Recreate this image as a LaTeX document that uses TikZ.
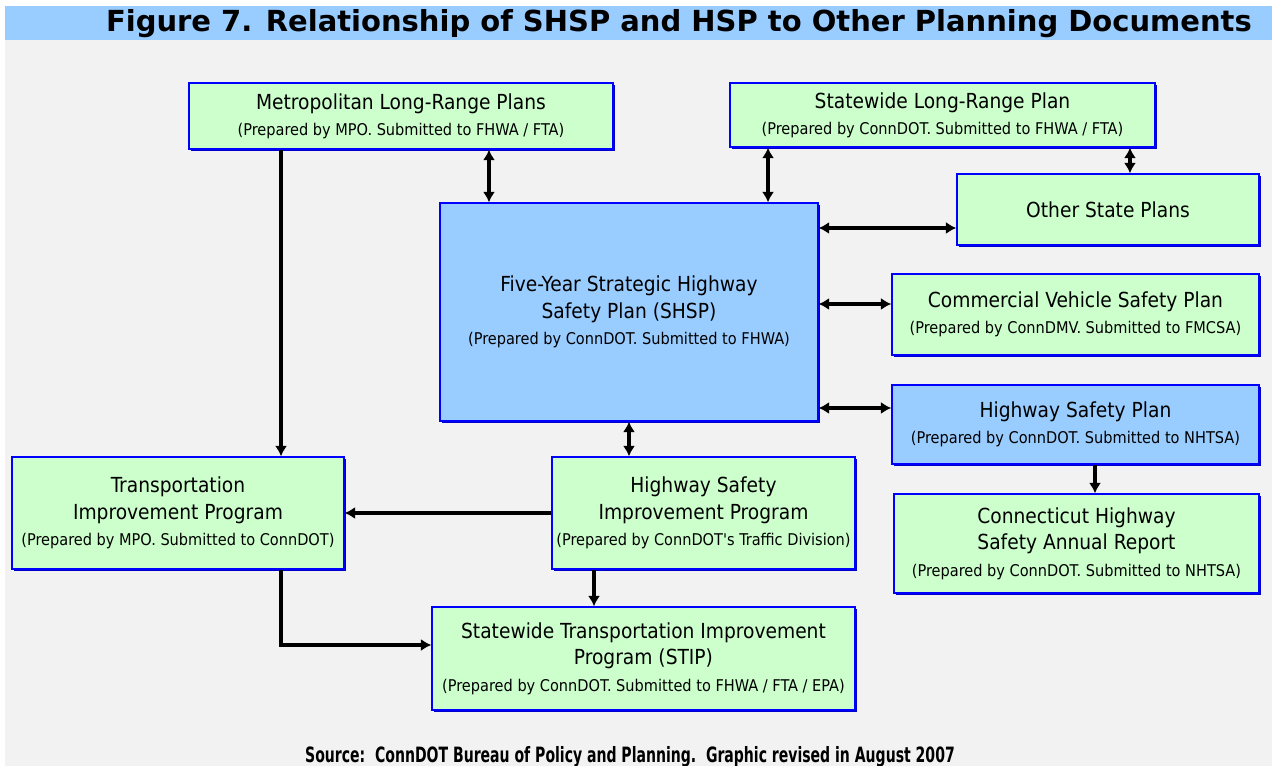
\documentclass[tikz,border=0pt]{standalone}
\usepackage{fontspec}
\usetikzlibrary{arrows.meta,shadows}
\newfontfamily\headfont{DejaVu Sans}
\newfontfamily\boxfont{DejaVu Sans Condensed}
\newcommand{\subtxt}{\fontsize{9.2}{12}\selectfont}

\definecolor{planGreen}{HTML}{CCFFCC}
\definecolor{planBlue}{HTML}{99CCFF}
\definecolor{paneGray}{HTML}{F2F2F2}

\tikzset{
  plan/.style={draw=blue, line width=0.8pt, fill=planGreen, align=center,
    inner sep=0pt, font=\boxfont\fontsize{11.8}{15}\selectfont,
    drop shadow={shadow xshift=1.3pt, shadow yshift=-1.3pt, fill=blue!80!black, opacity=1}},
  keyplan/.style={plan, fill=planBlue},
  link/.style={line width=2pt, >={Latex[length=6pt,width=7pt]}}
}

\begin{document}
\begin{tikzpicture}[x=0.02cm, y=-0.02cm]
  \useasboundingbox (0,0) rectangle (1272,766);

  % Background and title
  \fill[paneGray] (5,40) rectangle (1272,766);
  \fill[planBlue] (5,6) rectangle (1272,40);
  \node[anchor=east, font=\headfont\bfseries\fontsize{16.5}{16.5}\selectfont] (title) at (1258,24)
    {Figure 7. Relationship of SHSP and HSP to Other Planning Documents};

  % Planning documents
  \node[plan, minimum width=8.48cm, minimum height=1.32cm] (mlrp) at (401,116)
    {Metropolitan Long-Range Plans\\{\subtxt(Prepared by MPO. Submitted to FHWA / FTA)}};
  \node[plan, minimum width=8.5cm, minimum height=1.28cm] (slrp) at (942.5,115)
    {Statewide Long-Range Plan\\{\subtxt(Prepared by ConnDOT. Submitted to FHWA / FTA)}};
  \node[plan, minimum width=6.04cm, minimum height=1.42cm] (osp) at (1108,209.5)
    {Other State Plans};
  \node[keyplan, minimum width=7.56cm, minimum height=4.36cm] (shsp) at (629,312)
    {Five-Year Strategic Highway\\Safety Plan (SHSP)\\{\subtxt(Prepared by ConnDOT. Submitted to FHWA)}};
  \node[plan, minimum width=7.34cm, minimum height=1.62cm] (cvsp) at (1075.5,314.5)
    {Commercial Vehicle Safety Plan\\{\subtxt(Prepared by ConnDMV. Submitted to FMCSA)}};
  \node[keyplan, minimum width=7.34cm, minimum height=1.58cm] (hsp) at (1075.5,424.5)
    {Highway Safety Plan\\{\subtxt(Prepared by ConnDOT. Submitted to NHTSA)}};
  \node[plan, minimum width=7.3cm, minimum height=1.98cm] (chsar) at (1076.5,543.5)
    {Connecticut Highway\\Safety Annual Report\\{\subtxt(Prepared by ConnDOT. Submitted to NHTSA)}};
  \node[plan, minimum width=6.64cm, minimum height=2.24cm] (tip) at (178,513)
    {Transportation\\Improvement Program\\{\subtxt(Prepared by MPO. Submitted to ConnDOT)}};
  \node[plan, minimum width=6.06cm, minimum height=2.24cm] (hsip) at (703.5,513)
    {Highway Safety\\Improvement Program\\{\subtxt(Prepared by ConnDOT's Traffic Division)}};
  \node[plan, minimum width=8.46cm, minimum height=2.06cm] (stip) at (643.5,658.5)
    {Statewide Transportation Improvement\\Program (STIP)\\{\subtxt(Prepared by ConnDOT. Submitted to FHWA / FTA / EPA)}};

  % Connector end points
  \coordinate (mlrpL) at ([xshift=-2.4cm]mlrp.south);
  \coordinate (mlrpR) at ([xshift=1.76cm]mlrp.south);
  \coordinate (slrpL) at ([xshift=-3.49cm]slrp.south);
  \coordinate (slrpR) at ([xshift=3.75cm]slrp.south);
  \coordinate (ospW) at ([yshift=-0.37cm]osp.west);
  \coordinate (cvspW) at ([yshift=0.21cm]cvsp.west);
  \coordinate (hspW) at ([yshift=0.33cm]hsp.west);
  \coordinate (hspS) at ([xshift=0.39cm]hsp.south);
  \coordinate (hsipS) at ([xshift=-2.19cm]hsip.south);
  \coordinate (tipS) at ([xshift=2.06cm]tip.south);
  \coordinate (stipW) at ([yshift=0.27cm]stip.west);

  % Connectors
  \draw[link, ->] (mlrpL) -- (mlrpL |- tip.north);
  \draw[link, <->] (mlrpR) -- (mlrpR |- shsp.north);
  \draw[link, <->] (slrpL) -- (slrpL |- shsp.north);
  \draw[link, <->] (slrpR) -- (slrpR |- osp.north);
  \draw[link, <->] (shsp.east |- ospW) -- (ospW);
  \draw[link, <->] (shsp.east |- cvspW) -- (cvspW);
  \draw[link, <->] (shsp.east |- hspW) -- (hspW);
  \draw[link, <->] (shsp.south) -- (shsp.south |- hsip.north);
  \draw[link, ->] (hsip.west) -- (tip.east);
  \draw[link, ->] (hsipS) -- (hsipS |- stip.north);
  \draw[link, ->] (tipS) |- (stipW);
  \draw[link, ->] (hspS) -- (hspS |- chsar.north);

  % Source note
  \node[font=\boxfont\bfseries\fontsize{12}{12}\selectfont] (source) at (630,757)
    {\scalebox{0.74}[1]{Source:\ \ ConnDOT Bureau of Policy and Planning.\ \ Graphic revised in August 2007}};
\end{tikzpicture}
\end{document}
